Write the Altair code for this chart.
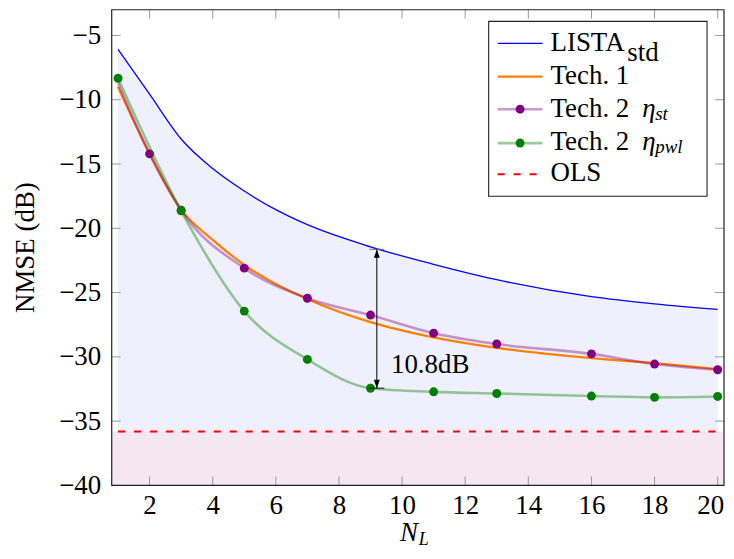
import altair as alt
import pandas as pd

# ---------------- data ----------------
lista_x = [1, 2, 3, 4, 5, 6, 7, 9, 11, 13, 16, 18, 20]
lista_y = [-6.08, -9.57, -13.05, -15.35, -17.1, -18.55, -19.72, -21.44, -22.8, -24.0, -25.31, -25.87, -26.3]

tech1_x = [1, 2, 3, 4, 5, 7, 9, 11, 13, 16, 18, 20]
tech1_y = [-9.0, -14.2, -18.55, -20.9, -22.85, -25.5, -27.3, -28.48, -29.3, -30.1, -30.49, -30.95]

st_x = [1, 2, 3, 5, 7, 9, 11, 13, 16, 18, 20]
st_y = [-8.7, -14.21, -18.6, -23.1, -25.44, -26.75, -28.16, -29.0, -29.77, -30.56, -31.0]

pwl_x = [1, 3, 5, 7, 9, 11, 13, 16, 18, 20]
pwl_y = [-8.33, -18.64, -26.44, -30.2, -32.44, -32.72, -32.85, -33.05, -33.15, -33.08]

ols_x = [1, 20]
ols_y = [-35.8, -35.8]

gap_x = [9.2]
gap_top = [-21.64]
gap_bottom = [-32.44]
gap_label = ["10.8dB"]

x_ticks = [2, 4, 6, 8, 10, 12, 14, 16, 18, 20]
y_ticks = [-5, -10, -15, -20, -25, -30, -35, -40]

# ---------------- styling ----------------
W, H = 614, 477
FONT = "Liberation Serif"
FS = 27
SUB = 19
BLUE, ORANGE, PURPLE, GREEN, RED = "#0000ff", "#ff8000", "#800080", "#008000", "#ff0000"
TICKC = "#9a9a9a"
TL = 9

xs = alt.Scale(domain=[0.8, 20.2], nice=False, zero=False)
ys = alt.Scale(domain=[-40, -3], nice=False, zero=False)

AX = alt.Axis(values=x_ticks, format="d", ticks=False, domain=False, grid=False,
              labelFont=FONT, labelFontSize=FS, labelColor="black", labelPadding=7, title=None,
              labelFlush=10, labelFlushOffset=6)
AY = alt.Axis(values=y_ticks, format="d", ticks=False, domain=False, grid=False,
              labelFont=FONT, labelFontSize=FS, labelColor="black", labelPadding=11,
              title="NMSE (dB)", titleFont=FONT, titleFontSize=FS, titleFontWeight="normal",
              titleColor="black", titleX=-86, titleY=238, titleAngle=270, titleAlign="center",
              titleBaseline="middle")

df_lista = pd.DataFrame({"x": lista_x, "y": lista_y})
df_t1 = pd.DataFrame({"x": tech1_x, "y": tech1_y})
df_st = pd.DataFrame({"x": st_x, "y": st_y})
df_pwl = pd.DataFrame({"x": pwl_x, "y": pwl_y})
df_ols = pd.DataFrame({"x": ols_x, "y": ols_y})
df_gap = pd.DataFrame({"x": gap_x, "top": gap_top, "bottom": gap_bottom, "label": gap_label})
df_xt = pd.DataFrame({"t": x_ticks})
df_yt = pd.DataFrame({"t": y_ticks})
one = pd.DataFrame({"a": [0]})


def X(f="x"):
    return alt.X(f"{f}:Q", scale=xs, axis=AX)


def Y(f="y"):
    return alt.Y(f"{f}:Q", scale=ys, axis=AY)


# background fills
fill = alt.Chart(df_lista).mark_area(color="#f0f0fc", interpolate="monotone").encode(
    x=X(), y=Y(), y2=alt.datum(-40))
pink = alt.Chart(df_ols).transform_aggregate(y="min(y)").mark_rect(color="#f4e6f2").encode(
    x=alt.value(0), x2=alt.value(W), y=Y(), y2=alt.datum(-40))

# ticks (inside)
xt_b = alt.Chart(df_xt).mark_rule(color=TICKC, strokeWidth=1).encode(x=X("t"), y=alt.value(H), y2=alt.value(H - TL))
xt_t = alt.Chart(df_xt).mark_rule(color=TICKC, strokeWidth=1).encode(x=X("t"), y=alt.value(0), y2=alt.value(TL))
yt_l = alt.Chart(df_yt).mark_rule(color=TICKC, strokeWidth=1).encode(y=Y("t"), x=alt.value(0), x2=alt.value(TL))
yt_r = alt.Chart(df_yt).mark_rule(color=TICKC, strokeWidth=1).encode(y=Y("t"), x=alt.value(W - TL), x2=alt.value(W))

# curves
l_lista = alt.Chart(df_lista).mark_line(color=BLUE, strokeWidth=1.3, interpolate="monotone").encode(x=X(), y=Y())
l_t1 = alt.Chart(df_t1).mark_line(color=ORANGE, strokeWidth=2.3, interpolate="monotone").encode(x=X(), y=Y())
l_st = alt.Chart(df_st).mark_line(color=PURPLE, strokeOpacity=0.4, strokeWidth=2.6, interpolate="monotone").encode(x=X(), y=Y())
p_st = alt.Chart(df_st).transform_filter("datum.x > 1").mark_circle(color=PURPLE, opacity=1, size=80).encode(x=X(), y=Y())
l_pwl = alt.Chart(df_pwl).mark_line(color=GREEN, strokeOpacity=0.4, strokeWidth=2.6, interpolate="monotone").encode(x=X(), y=Y())
p_pwl = alt.Chart(df_pwl).mark_circle(color=GREEN, opacity=1, size=80).encode(x=X(), y=Y())
l_ols = alt.Chart(df_ols).mark_line(color=RED, strokeWidth=2, strokeDash=[7, 9]).encode(x=X(), y=Y())

# gap annotation
shaft = alt.Chart(df_gap).mark_rule(color="black", strokeWidth=1).encode(x=X(), y=Y("top"), y2="bottom:Q")
bar_t = alt.Chart(df_gap).mark_tick(color="#666666", orient="horizontal", size=15, thickness=1.3).encode(x=X(), y=Y("top"))
bar_b = alt.Chart(df_gap).mark_tick(color="black", orient="horizontal", size=15, thickness=1.3).encode(x=X(), y=Y("bottom"))
head_t = alt.Chart(df_gap).mark_point(shape="M0,-1L0.7,1L-0.7,1Z", filled=True, color="black", opacity=1,
                                      size=72, yOffset=4.25).encode(x=X(), y=Y("top"))
head_b = alt.Chart(df_gap).mark_point(shape="M0,1L0.7,-1L-0.7,-1Z", filled=True, color="black", opacity=1,
                                      size=72, yOffset=-4.25).encode(x=X(), y=Y("bottom"))
gap_txt = alt.Chart(df_gap).mark_text(font=FONT, fontSize=FS, align="left", baseline="alphabetic", color="black").encode(
    x=alt.value(280), y=alt.value(364), text="label:N")

# frame
frame = alt.Chart(one).mark_rect(fill=None, stroke="#222222", strokeWidth=1.2).encode(
    x=alt.value(0), x2=alt.value(W), y=alt.value(0), y2=alt.value(H))


def txt(s, x, y, size=FS, style="normal", align="left"):
    return alt.Chart(one).mark_text(font=FONT, fontSize=size, fontStyle=style, align=align,
                                    baseline="alphabetic", color="black").encode(
        x=alt.value(x), y=alt.value(y), text=alt.value(s))


# x-axis title N_L
xt1 = txt("N", 298, 533, style="italic", align="center")
xt2 = txt("L", 308, 537, size=18, style="italic")

# legend
LX0, LX1, LMX, LTX = 387, 432, 409.5, 440
rows = [33.7, 67, 99.7, 133.7, 165]
box = alt.Chart(one).mark_rect(fill="white", stroke="#222222", strokeWidth=1.1).encode(
    x=alt.value(378), x2=alt.value(597), y=alt.value(11.7), y2=alt.value(187))


def sample(y, color, width, opacity=1.0, dash=None):
    kw = dict(color=color, strokeWidth=width, strokeOpacity=opacity)
    if dash:
        kw["strokeDash"] = dash
    return alt.Chart(one).mark_rule(**kw).encode(x=alt.value(LX0), x2=alt.value(LX1), y=alt.value(y))


def dot(y, color):
    return alt.Chart(one).mark_circle(color=color, opacity=1, size=80).encode(x=alt.value(LMX), y=alt.value(y))


legend = [
    box,
    sample(rows[0], BLUE, 1.3), txt("LISTA", LTX, 41), txt("std", 517, 51),
    sample(rows[1], ORANGE, 2.3), txt("Tech. 1", LTX, 74.5),
    sample(rows[2], PURPLE, 2.6, 0.4), dot(rows[2], PURPLE), txt("Tech. 2", LTX, 107.7),
    txt("η", 532, 107.7, style="italic"), txt("st", 545, 111, size=SUB, style="italic"),
    sample(rows[3], GREEN, 2.6, 0.4), dot(rows[3], GREEN), txt("Tech. 2", LTX, 140.5),
    txt("η", 532, 140.5, style="italic"), txt("pwl", 545, 144, size=SUB, style="italic"),
    sample(rows[4], RED, 2, dash=[7, 9]), txt("OLS", LTX, 171.5),
]

chart = alt.layer(
    fill, pink, xt_b, xt_t, yt_l, yt_r,
    l_lista, l_t1, l_st, p_st, l_pwl, p_pwl, l_ols,
    shaft, bar_t, bar_b, head_t, head_b, gap_txt, frame,
    xt1, xt2, *legend,
).properties(
    width=W, height=H,
    autosize=alt.AutoSizeParams(type="none"),
    padding={"left": 104, "top": 1, "right": 2, "bottom": 65},
).configure_view(stroke=None).configure_axis(
    labelFont=FONT, titleFont=FONT, labelFontSize=FS, titleFontSize=FS
).configure_text(font=FONT)

chart.save("out.html", embed_options={"renderer": "svg", "actions": False})
